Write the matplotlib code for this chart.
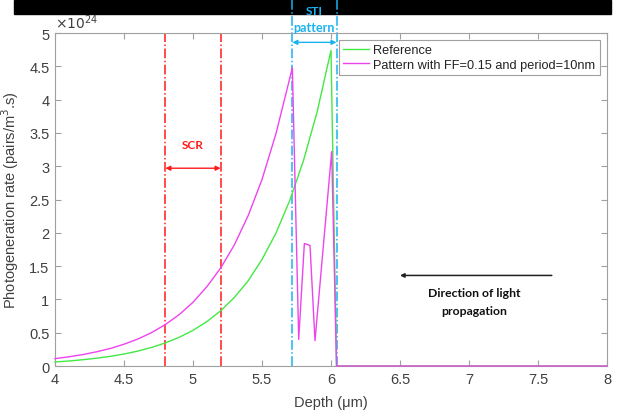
import numpy as np
import matplotlib
matplotlib.use("Agg")
import matplotlib.pyplot as plt
from matplotlib.patches import Rectangle

# depth (um) and photogeneration rate (x1e24 pairs/m^3.s)
depth_ref = [4.0, 4.1, 4.2, 4.3, 4.4, 4.5, 4.6, 4.7, 4.8, 4.9, 5.0, 5.1, 5.2,
             5.3, 5.4, 5.5, 5.6, 5.7, 5.8, 5.9, 6.0, 6.04, 8.0]
rate_ref = [0.061, 0.075, 0.094, 0.117, 0.145, 0.180, 0.224, 0.279, 0.347,
            0.431, 0.536, 0.666, 0.829, 1.03, 1.28, 1.60, 1.99, 2.48, 3.08,
            3.82, 4.74, 0.0, 0.0]

depth_pat = [4.0, 4.1, 4.2, 4.3, 4.4, 4.5, 4.6, 4.7, 4.8, 4.9, 5.0, 5.1, 5.2,
             5.3, 5.4, 5.5, 5.6, 5.7, 5.72, 5.766, 5.807, 5.848, 5.884,
             6.005, 6.04, 8.0]
rate_pat = [0.111, 0.138, 0.171, 0.213, 0.263, 0.327, 0.405, 0.502, 0.623,
            0.772, 0.957, 1.19, 1.47, 1.82, 2.26, 2.80, 3.48, 4.31, 4.48,
            0.40, 1.84, 1.81, 0.38, 3.22, 0.0, 0.0]

scr_edges = [4.8, 5.2]
sti_edges = [5.72, 6.04]

green = "#44e844"
magenta = "#ee44ee"
red = "#ff1a1a"
blue = "#1ab2f0"
grey = "#404040"

plt.rcParams.update({
    "font.family": ["Liberation Sans", "DejaVu Sans"],
    "font.size": 10,
    "axes.edgecolor": "#a0a0a0",
    "axes.linewidth": 0.8,
    "xtick.color": "#a0a0a0",
    "ytick.color": "#a0a0a0",
    "xtick.labelcolor": grey,
    "ytick.labelcolor": grey,
    "xtick.direction": "in",
    "ytick.direction": "in",
})

fig = plt.figure(figsize=(6.33, 4.14), dpi=100)
ax = fig.add_axes([0.0869, 0.1135, 0.872, 0.8043])
ax.set_zorder(2)
ax.patch.set_alpha(0)

# black band across the top of the picture (under the axes so STI text shows)
fig.patches.append(Rectangle((0.022, 0.9638), 0.943, 0.0338,
                             transform=fig.transFigure, color="black", zorder=-1))

ax.plot(depth_ref, rate_ref, color=green, lw=1.0, label="Reference",
        zorder=3, clip_on=False)
ax.plot(depth_pat, rate_pat, color=magenta, lw=1.0,
        label="Pattern with FF=0.15 and period=10nm", zorder=3, clip_on=False)

ax.set_xlim(4, 8)
ax.set_ylim(0, 5)
ax.set_xticks(np.arange(4, 8.01, 0.5))
ax.set_yticks(np.arange(0, 5.01, 0.5))
ax.set_xticklabels(["4", "4.5", "5", "5.5", "6", "6.5", "7", "7.5", "8"])
ax.set_yticklabels(["0", "0.5", "1", "1.5", "2", "2.5", "3", "3.5", "4", "4.5", "5"])
ax.tick_params(top=True, right=True, length=4, width=0.8, labelsize=10.5, pad=4)
ax.text(0.0, 1.005, r"$\times10^{24}$", transform=ax.transAxes, color=grey,
        fontsize=10, ha="left", va="bottom")

ax.set_xlabel("Depth (\u03bcm)", color=grey, fontsize=10.5, labelpad=7)
ax.set_ylabel(r"Photogeneration rate (pairs/m$^3$.s)", color=grey, fontsize=10.5,
              labelpad=6)

# space charge region
for xv in scr_edges:
    ax.axvline(xv, color=red, ls="-.", lw=1.1)
ax.annotate("", xy=(scr_edges[0], 2.97), xytext=(scr_edges[1], 2.97),
            arrowprops=dict(arrowstyle="<|-|>", color=red, lw=1.0,
                            mutation_scale=7, shrinkA=0, shrinkB=0))
ax.text(np.mean(scr_edges), 3.32, "SCR", color=red, fontsize=8.5,
        fontweight="bold", family="Lato", ha="center", va="center")

# STI pattern region, lines run up to the black band
for xv in sti_edges:
    ax.plot([xv, xv], [0, 5.53], color=blue, ls="-.", lw=1.1, clip_on=False)
ax.annotate("", xy=(sti_edges[0], 4.86), xytext=(sti_edges[1], 4.86),
            arrowprops=dict(arrowstyle="<|-|>", color=blue, lw=1.0,
                            mutation_scale=7, shrinkA=0, shrinkB=0),
            annotation_clip=False)
ax.text(np.mean(sti_edges), 5.34, "STI", color=blue, fontsize=8.5,
        fontweight="bold", family="Lato", ha="center", va="center",
        clip_on=False, zorder=5)
ax.text(np.mean(sti_edges), 5.09, "pattern", color=blue, fontsize=9,
        fontweight="bold", family="Lato", ha="center", va="center", clip_on=False)

# light direction
ax.annotate("", xy=(6.5, 1.36), xytext=(7.6, 1.36),
            arrowprops=dict(arrowstyle="-|>", color="#202020", lw=1.1,
                            mutation_scale=6, shrinkA=0, shrinkB=0))
ax.text(7.04, 1.1, "Direction of light", color="#111111", fontsize=8.8,
        fontweight="bold", family="Lato", ha="center", va="center")
ax.text(7.04, 0.83, "propagation", color="#111111", fontsize=8.8,
        fontweight="bold", family="Lato", ha="center", va="center")

leg = ax.legend(loc="upper right", bbox_to_anchor=(0.987, 0.98), fontsize=9.2,
                frameon=True, fancybox=False, edgecolor="#a0a0a0",
                handlelength=2.0, handletextpad=0.35, borderpad=0.35,
                labelspacing=0.2, borderaxespad=0, framealpha=1)
leg.get_frame().set_linewidth(0.8)
for t in leg.get_texts():
    t.set_color("#222222")

fig.savefig("out.png", dpi=100)
